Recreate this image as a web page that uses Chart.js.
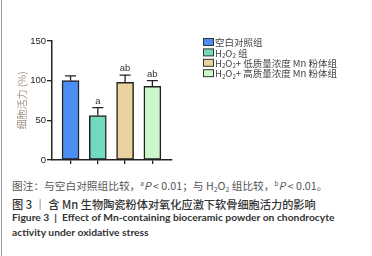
<!DOCTYPE html>
<html><head><meta charset="utf-8">
<script src="https://cdn.jsdelivr.net/npm/chart.js@4.4.1/dist/chart.umd.min.js"></script>
<style>
html,body{margin:0;padding:0;background:#fff;width:372px;height:256px;overflow:hidden;}
#wrap{position:relative;width:372px;height:256px;}
#border{position:absolute;left:1px;top:0;width:1px;height:256px;background:#999;}
canvas{position:absolute;left:0;top:0;}
.cap{position:absolute;left:12px;white-space:nowrap;line-height:14px;}
#l1{top:178px;font:10.7px "Noto Sans CJK SC";color:#555;}
#l2{top:196px;font:500 11.2px "Noto Sans CJK SC";color:#333;}
#l3{top:211px;font:bold 10.3px Lato;color:#333;}
#l4{top:226px;font:bold 10.3px Lato;color:#333;}
sup{font-size:60%;vertical-align:4px;line-height:0;}
sub{font-size:65%;vertical-align:-2px;line-height:0;}
</style></head><body>
<div id="wrap">
<div id="border"></div>
<canvas id="c" width="372" height="172"></canvas>
<div class="cap" id="l1">图注：与空白对照组比较，<sup>a</sup><i>P</i> &lt; 0.01；与 H<sub>2</sub>O<sub>2</sub> 组比较，<sup>b</sup><i>P</i> &lt; 0.01。</div>
<div class="cap" id="l2">图 3 ｜ 含 Mn 生物陶瓷粉体对氧化应激下软骨细胞活力的影响</div>
<div class="cap" id="l3">Figure 3 &nbsp;|&nbsp; Effect of Mn-containing bioceramic powder on chondrocyte</div>
<div class="cap" id="l4">activity under oxidative stress</div>
</div>
<script>
const categories = ['空白对照组', 'H₂O₂ 组', 'H₂O₂+ 低质量浓度 Mn 粉体组', 'H₂O₂+ 高质量浓度 Mn 粉体组'];
const viability = [100, 56, 98, 93];
const errorSD = [6, 10, 9, 7];
const sigLabels = ['', 'a', 'ab', 'ab'];
const yTicks = [0, 50, 100, 150];
const yTitle = '细胞活力 (%)';
const barColors = ['#4b8ff4', '#72dbbf', '#e9d49f', '#cbf7cb'];

function drawRich(ctx, text, x, y, size, family, color) {
  ctx.save();
  ctx.fillStyle = color;
  ctx.textBaseline = 'middle';
  ctx.textAlign = 'left';
  let cx = x;
  for (const ch of text) {
    if (ch === '₂') {
      ctx.font = (size * 0.65) + 'px ' + family;
      ctx.fillText('2', cx, y + size * 0.3);
      cx += ctx.measureText('2').width;
    } else {
      ctx.font = size + 'px ' + family;
      ctx.fillText(ch, cx, y);
      cx += ctx.measureText(ch).width;
    }
  }
  ctx.restore();
}

const extras = {
  id: 'extras',
  afterDatasetsDraw(chart) {
    const ctx = chart.ctx;
    const ys = chart.scales.y;
    const meta = chart.getDatasetMeta(0);
    ctx.save();
    meta.data.forEach((el, i) => {
      const top = ys.getPixelForValue(viability[i] + errorSD[i]);
      ctx.strokeStyle = '#222';
      ctx.lineWidth = 1.3;
      ctx.beginPath();
      ctx.moveTo(el.x, el.y);
      ctx.lineTo(el.x, top);
      ctx.moveTo(el.x - 5.5, top);
      ctx.lineTo(el.x + 5.5, top);
      ctx.stroke();
      if (sigLabels[i]) {
        ctx.fillStyle = '#333';
        ctx.font = '9.5px "Liberation Sans"';
        ctx.textAlign = 'center';
        ctx.textBaseline = 'bottom';
        ctx.fillText(sigLabels[i], el.x, top - 1.5);
      }
    });
    const ca = chart.chartArea;
    ctx.translate(22, (ca.top + ca.bottom) / 2);
    ctx.rotate(-Math.PI / 2);
    ctx.fillStyle = '#a39284';
    ctx.font = '10px "Noto Sans CJK SC"';
    ctx.textAlign = 'center';
    ctx.textBaseline = 'middle';
    ctx.fillText(yTitle, 0, 0);
    ctx.restore();
    categories.forEach((name, i) => {
      const cy = 42 + i * 10.4;
      ctx.save();
      ctx.fillStyle = barColors[i];
      ctx.strokeStyle = '#333';
      ctx.lineWidth = 1;
      ctx.fillRect(203.5, cy - 3.5, 10, 7);
      ctx.strokeRect(203.5, cy - 3.5, 10, 7);
      ctx.restore();
      drawRich(ctx, name, 215, cy + 0.5, 9.5, '"Noto Sans CJK SC"', '#444');
    });
  }
};

new Chart(document.getElementById('c'), {
  type: 'bar',
  data: {
    datasets: [{
      data: viability.map((v, i) => ({x: i, y: v})),
      backgroundColor: barColors,
      borderColor: '#222',
      borderWidth: 1.5,
      borderSkipped: false,
      barThickness: 17
    }]
  },
  options: {
    responsive: false,
    animation: false,
    layout: {padding: {top: 41, right: 200, bottom: 2, left: 0}},
    plugins: {legend: {display: false}, tooltip: {enabled: false}},
    scales: {
      x: {
        type: 'linear', min: -0.68, max: 3.72, offset: false,
        afterBuildTicks(s) { s.ticks = [0, 1, 2, 3].map(v => ({value: v})); },
        afterFit(s) { s.height = 10; },
        ticks: {callback: () => '', font: {size: 1}},
        grid: {offset: false, drawOnChartArea: false, drawTicks: true, tickLength: 4, color: '#222', lineWidth: 1.3},
        border: {color: '#222', width: 1.5}
      },
      y: {
        min: 0, max: 150,
        afterBuildTicks(s) { s.ticks = yTicks.map(v => ({value: v})); },
        afterFit(s) { s.width = 52; },
        ticks: {color: '#222', padding: 1, font: {size: 9.5, family: '"Liberation Sans"'}},
        grid: {drawOnChartArea: false, drawTicks: true, tickLength: 5, color: '#222', lineWidth: 1.3},
        border: {color: '#222', width: 1.5}
      }
    }
  },
  plugins: [extras]
});
</script>
</body></html>
